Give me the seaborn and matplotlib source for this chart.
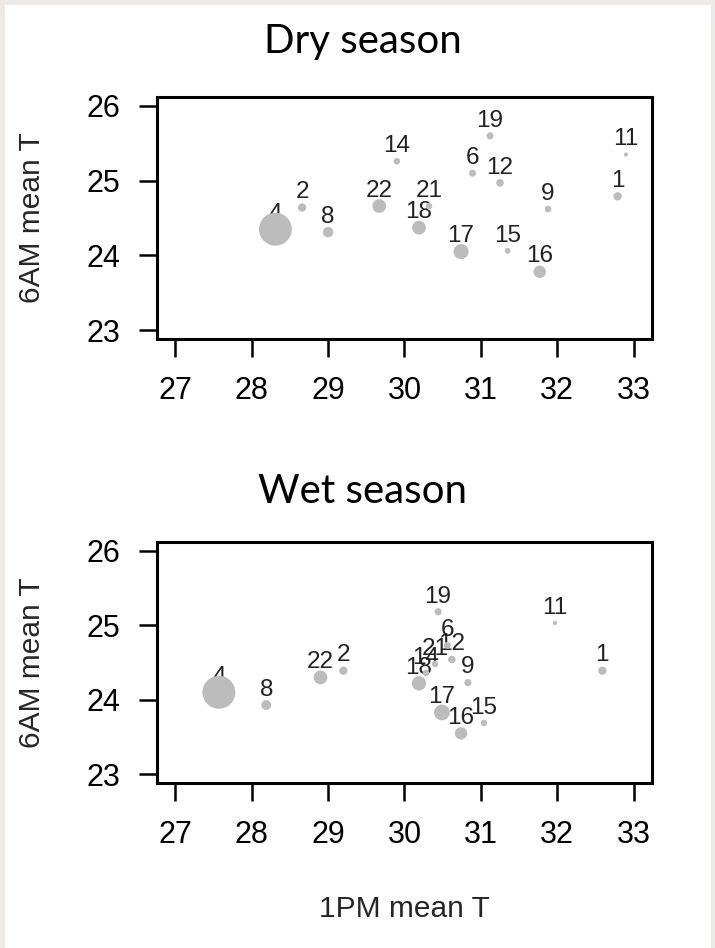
import matplotlib
matplotlib.use("Agg")
import matplotlib.pyplot as plt
from matplotlib.patches import Rectangle
import numpy as np
import pandas as pd
import seaborn as sns

# ---------------- data ----------------
sites = ["1", "2", "4", "6", "8", "9", "11", "12", "14", "15", "16", "17", "18", "19", "21", "22"]

dry_pm = [32.79, 28.66, 28.31, 30.89, 29.00, 31.88, 32.90, 31.25, 29.90, 31.35, 31.77, 30.74, 30.19, 31.12, 30.32, 29.67]
dry_am = [24.79, 24.64, 24.35, 25.10, 24.31, 24.62, 25.35, 24.97, 25.26, 24.06, 23.78, 24.05, 24.37, 25.60, 24.66, 24.66]
dry_size = [36, 36, 560, 26, 56, 22, 9, 30, 22, 18, 80, 118, 98, 26, 22, 98]

wet_pm = [32.59, 29.20, 27.57, 30.56, 28.19, 30.83, 31.97, 30.62, 30.28, 31.04, 30.74, 30.49, 30.19, 30.44, 30.40, 28.90]
wet_am = [24.39, 24.39, 24.10, 24.73, 23.93, 24.23, 25.03, 24.54, 24.36, 23.69, 23.55, 23.83, 24.22, 25.18, 24.48, 24.30]
wet_size = [36, 36, 560, 26, 50, 26, 9, 30, 22, 22, 80, 128, 106, 26, 22, 98]

panel_titles = ["Dry season", "Wet season"]
x_ticks = [27, 28, 29, 30, 31, 32, 33]
y_ticks = [23, 24, 25, 26]
x_label = "1PM mean T"
y_label = "6AM mean T"

# ---------------- style ----------------
sns.set_style("white")
plt.rcParams["font.family"] = ["Liberation Sans", "DejaVu Sans"]

W, H = 715, 948
fig = plt.figure(figsize=(W / 100, H / 100), dpi=100, facecolor="#ece9e6")
fig.add_artist(Rectangle((5 / W, 0), (711 - 5) / W, (H - 5) / H,
                         transform=fig.transFigure, facecolor="white",
                         edgecolor="none", zorder=-10))

point_color = "#bcbcbc"
label_color = "#222222"

panels = [
    (dry_pm, dry_am, dry_size, [157 / W, 1 - 339 / H, 495 / W, 242 / H], 53),
    (wet_pm, wet_am, wet_size, [157 / W, 1 - 783.3 / H, 495 / W, 241.6 / H], 503),
]

for i, (pm, am, sz, rect, title_base) in enumerate(panels):
    df = pd.DataFrame({"site": sites, "pm": pm, "am": am, "size": sz})
    ax = fig.add_axes(rect)
    sns.scatterplot(data=df, x="pm", y="am", size="size", sizes=(9, 560),
                    size_norm=(9, 560), color=point_color, linewidth=0,
                    legend=False, ax=ax, zorder=3)
    for _, r in df.iterrows():
        ax.annotate(r["site"], (r["pm"], r["am"]), xytext=(0, 11),
                    textcoords="offset points", ha="center", va="center",
                    fontsize=17.5, color=label_color, zorder=2)
    ax.set_xlim(26.76, 33.24)
    ax.set_ylim(22.88, 26.12)
    ax.set_xticks(x_ticks)
    ax.set_yticks(y_ticks)
    ax.set_xticklabels([str(t) for t in x_ticks])
    ax.set_yticklabels([str(t) for t in y_ticks])
    for sp in ax.spines.values():
        sp.set_visible(True)
        sp.set_color("black")
        sp.set_linewidth(2.2)
    ax.tick_params(axis="both", which="both", direction="out", length=13,
                   width=1.8, pad=13.5, labelsize=22, colors="black",
                   bottom=True, left=True, top=False, right=False)
    ax.set_ylabel(y_label, fontsize=21.5, va="center")
    ax.yaxis.set_label_coords((32 - 157) / 495, 0.5)
    if i == 1:
        ax.set_xlabel(x_label, fontsize=21.5, va="center")
        ax.xaxis.set_label_coords(0.5, (783.3 - 909) / 241.6)
    else:
        ax.set_xlabel("")
    fig.text(363 / W, 1 - title_base / H, panel_titles[i], ha="center",
             va="baseline", fontsize=29, family=["Lato", "DejaVu Sans"],
             color="black")

fig.savefig("out.png", dpi=100, facecolor=fig.get_facecolor())
